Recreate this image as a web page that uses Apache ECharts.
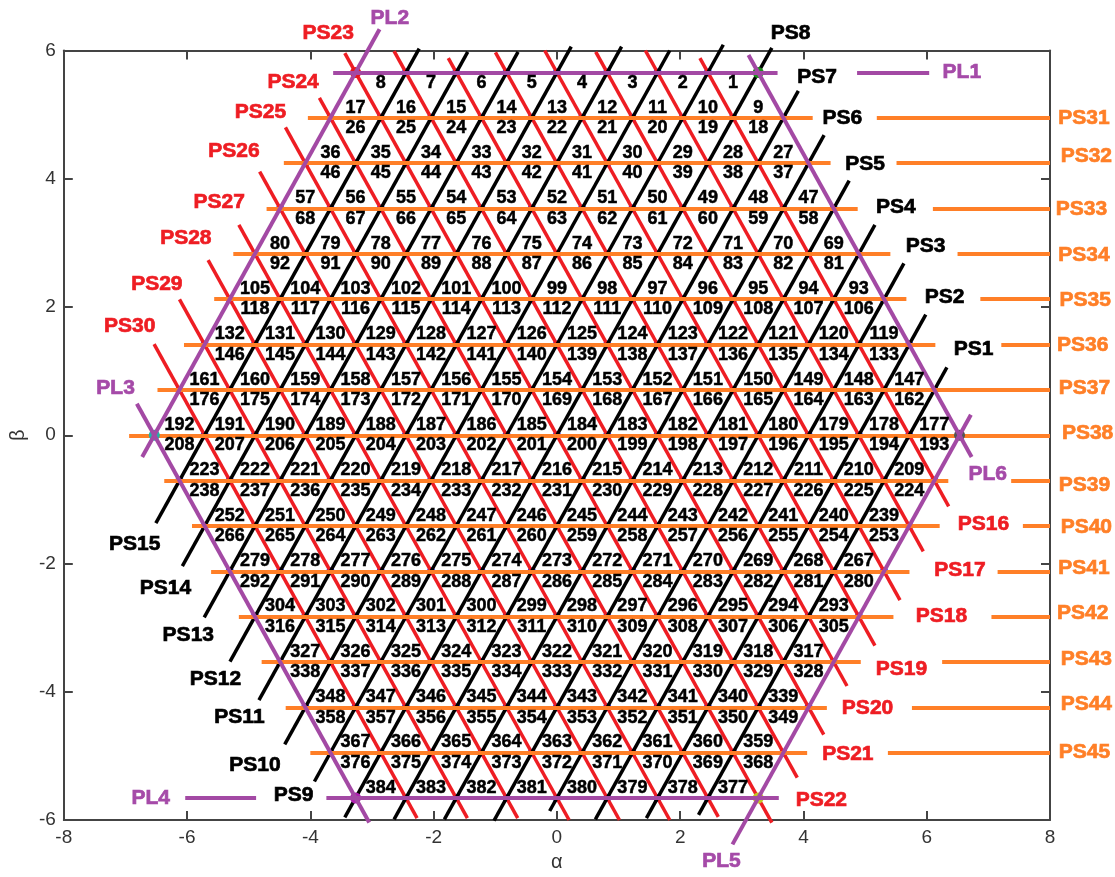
<!DOCTYPE html>
<html>
<head>
<meta charset="utf-8">
<script src="https://cdn.jsdelivr.net/npm/echarts@6/dist/echarts.min.js"></script>
<style>
  html, body { margin: 0; padding: 0; background: #fff; }
  #chart { width: 1115px; height: 877px; }
</style>
</head>
<body>
<div id="chart"></div>
<script>
// Spacing between neighbouring parallel lines and edge length of one small triangle
const D = Math.SQRT1_2;
const H = Math.sqrt(3) / 2;
const S = D / H;

// Axis ticks
const xTicks = [-8, -6, -4, -2, 0, 2, 4, 6, 8];
const yTicks = [-6, -4, -2, 0, 2, 4, 6];

// Black family (0.866·α − 0.5·β = k·D): PS1 … PS15
const blackNames = ['PS1','PS2','PS3','PS4','PS5','PS6','PS7','PS8','PS9','PS10','PS11','PS12','PS13','PS14','PS15'];
const blackK = [7, 6, 5, 4, 3, 2, 1, 0, -1, -2, -3, -4, -5, -6, -7];
const blackTopBeta = [1.06, 1.88, 2.68, 3.28, 3.97, 4.68, 5.37, 6.04, 6.09, 6.00, 6.06, 6.06, 5.98, 5.98, 6.03];
const blackBottomBeta = [-5.92, -5.97, -5.99, -5.86, -6.01, -5.99, -5.99, -5.96, -5.40, -4.82, -4.13, -3.53, -2.84, -2.04, -1.37];
const blackLabelPos = [[6.76, 1.34], [6.29, 2.15], [5.98, 2.95], [5.50, 3.55], [5.00, 4.23], [4.63, 4.94], [4.22, 5.58], [3.79, 6.27],
  [-4.27, -5.62], [-4.90, -5.14], [-5.15, -4.40], [-5.54, -3.81], [-5.98, -3.12], [-6.35, -2.39], [-6.85, -1.70]];

// Red family (0.866·α + 0.5·β = k·D): PS16 … PS30
const redNames = ['PS16','PS17','PS18','PS19','PS20','PS21','PS22','PS23','PS24','PS25','PS26','PS27','PS28','PS29','PS30'];
const redK = [7, 6, 5, 4, 3, 2, 1, 0, -1, -2, -3, -4, -5, -6, -7];
const redTopBeta = [5.88, 6.00, 5.98, 6.00, 5.97, 5.88, 5.99, 5.96, 5.26, 4.80, 4.11, 3.28, 2.73, 2.12, 1.42];
const redBottomBeta = [-1.11, -1.81, -2.57, -3.28, -3.91, -4.67, -5.34, -6.04, -5.95, -6.00, -6.00, -6.00, -5.97, -5.97, -5.97];
const redLabelPos = [[6.92, -1.38], [6.54, -2.11], [6.24, -2.82], [5.59, -3.65], [5.04, -4.26], [4.72, -4.98], [4.29, -5.69],
  [-3.71, 6.27], [-4.28, 5.50], [-4.81, 5.03], [-5.24, 4.43], [-5.48, 3.63], [-6.02, 3.07], [-6.49, 2.36], [-6.93, 1.70]];

// Orange family (β = k·D): PS31 … PS45, each broken where a label crosses it
const orangeNames = ['PS31','PS32','PS33','PS34','PS35','PS36','PS37','PS38','PS39','PS40','PS41','PS42','PS43','PS44','PS45'];
const orangeK = [7, 6, 5, 4, 3, 2, 1, 0, -1, -2, -3, -4, -5, -6, -7];
const orangeStartAlpha = [-4.04, -4.43, -4.71, -5.25, -5.56, -6.05, -6.48, -6.94, -6.37, -5.92, -5.61, -5.16, -4.79, -4.40, -4.00];
const orangeEndAlpha = [8, 8, 8, 8, 8, 8, 8, 8, 8, 8, 8, 8, 8, 8, 8];
const orangeGap = [[4.15, 5.19], [4.44, 5.51], [4.88, 6.10], [5.41, 6.50], [5.67, 6.87], [6.14, 7.21], null, null,
  [6.35, 7.37], [6.21, 7.56], [5.72, 7.15], [5.46, 7.05], [4.93, 6.25], [4.38, 5.76], [4.06, 5.37]];
const orangeLabelAlpha = [8.55, 8.59, 8.51, 8.55, 8.57, 8.53, 8.56, 8.61, 8.56, 8.59, 8.55, 8.53, 8.59, 8.59, 8.56];
const orangeLabelBeta = [4.94, 4.35, 3.52, 2.80, 2.10, 1.40, 0.74, 0.03, -0.78, -1.44, -2.08, -2.77, -3.49, -4.19, -4.94];

// Hexagon sides PL1 … PL6 ('h' horizontal: from/to are α; 'b'/'r' slanted: from/to are β)
const purpleNames = ['PL1', 'PL2', 'PL3', 'PL4', 'PL5', 'PL6'];
const purpleFamily = ['h', 'b', 'r', 'h', 'b', 'r'];
const purpleK = [8, -8, -8, -8, 8, 8];
const purpleFrom = [-3.63, -0.34, -6.04, -6.03, -6.38, -0.34];
const purpleTo = [6.04, 6.33, 0.49, 3.60, 0.32, 5.93];
const purpleGap = [[3.58, 4.87], null, null, [-4.88, -3.74], null, null];
const purpleLabelPos = [[6.57, 5.66], [-2.71, 6.50], [-7.16, 0.74], [-6.59, -5.66], [2.67, -6.64], [6.99, -0.60]];

// Hexagon corners and their marker colours
const cornerColors = ['#e8141c', '#1e8f1e', '#555555', '#c2c424', '#b020b0', '#22b2a8'];

// Colours
const C_RED = '#ee1d23', C_BLACK = '#000000', C_ORANGE = '#ff7f27', C_PURPLE = '#a349a4', C_BLUE = '#1f2fff';
const FONT = '"Liberation Sans", Arial, Helvetica, sans-serif';

// Point on a slanted line of a family at a given β
function redAlpha(k, beta) { return (k * D - 0.5 * beta) / H; }
function blackAlpha(k, beta) { return (k * D + 0.5 * beta) / H; }

function seg(a, b) { return { coords: [a, b] }; }

// Red and black slanted lines
const redSegs = redK.map((k, i) => seg([redAlpha(k, redTopBeta[i]), redTopBeta[i]], [redAlpha(k, redBottomBeta[i]), redBottomBeta[i]]));
const blackSegs = blackK.map((k, i) => seg([blackAlpha(k, blackTopBeta[i]), blackTopBeta[i]], [blackAlpha(k, blackBottomBeta[i]), blackBottomBeta[i]]));

// Horizontal lines, split around their gaps
function hSegs(beta, a0, a1, gap) {
  if (!gap) return [seg([a0, beta], [a1, beta])];
  return [seg([a0, beta], [gap[0], beta]), seg([gap[1], beta], [a1, beta])];
}
const orangeSegs = [];
orangeK.forEach((k, i) => orangeSegs.push(...hSegs(k * D, orangeStartAlpha[i], orangeEndAlpha[i], orangeGap[i])));

const purpleSegs = [];
purpleFamily.forEach((f, i) => {
  const k = purpleK[i];
  if (f === 'h') {
    purpleSegs.push(...hSegs(k * D, purpleFrom[i], purpleTo[i], purpleGap[i]));
  } else {
    const fn = f === 'r' ? redAlpha : blackAlpha;
    purpleSegs.push(seg([fn(k, purpleFrom[i]), purpleFrom[i]], [fn(k, purpleTo[i]), purpleTo[i]]));
  }
});

// Lattice nodes: crossings of the three families inside the hexagon
const nodes = [];
for (let m = -8; m <= 8; m++) {
  const w = (8 - Math.abs(m) / 2) * S;
  for (let i = 0; i <= 16 - Math.abs(m); i++) nodes.push([-w + i * S, m * D]);
}
const corners = [
  [-4 * S, 8 * D], [4 * S, 8 * D], [8 * S, 0], [4 * S, -8 * D], [-4 * S, -8 * D], [-8 * S, 0]
].map((p, i) => ({ value: p, itemStyle: { color: cornerColors[i] } }));

// Triangle numbers 1 … 384, band by band from the top, right to left,
// first the triangles hanging from the upper line, then those standing on the lower line
const NUM_OFFSET = 0.16;
const triangleLabels = [];
(function () {
  let n = 1;
  for (let b = 1; b <= 16; b++) {
    const mTop = 9 - b, mBot = 8 - b;
    const wTop = (8 - Math.abs(mTop) / 2) * S, wBot = (8 - Math.abs(mBot) / 2) * S;
    const nDown = 16 - Math.abs(mTop), nUp = 16 - Math.abs(mBot);
    for (let j = nDown - 1; j >= 0; j--) triangleLabels.push([-wTop + S * (j + 0.5), mTop * D - NUM_OFFSET, n++]);
    for (let j = nUp - 1; j >= 0; j--) triangleLabels.push([-wBot + S * (j + 0.5), mBot * D + NUM_OFFSET, n++]);
  }
})();

// Line name labels
function nameData(names, pos, color) {
  return names.map((t, i) => ({
    value: [pos[i][0], pos[i][1]], name: t,
    label: { color, textBorderColor: color, textBorderWidth: 0.7, opacity: 1 }
  }));
}
const lineNames = [].concat(
  nameData(blackNames, blackLabelPos, C_BLACK),
  nameData(redNames, redLabelPos, C_RED),
  nameData(orangeNames, orangeLabelAlpha.map((a, i) => [a, orangeLabelBeta[i]]), C_ORANGE),
  nameData(purpleNames, purpleLabelPos, '#a54aa8')
);

const axisLineStyle = { color: '#444', width: 2 };
function xAxis(pos, labels) {
  return {
    type: 'value', min: xTicks[0], max: xTicks[xTicks.length - 1], interval: 2, position: pos,
    axisLine: { onZero: false, lineStyle: axisLineStyle },
    axisTick: { inside: true, length: 9, lineStyle: axisLineStyle },
    axisLabel: { show: labels, fontSize: 19, color: '#333', margin: 8, fontFamily: FONT },
    splitLine: { show: false },
    name: labels ? 'α' : '', nameLocation: 'middle', nameGap: 32,
    nameTextStyle: { fontSize: 20, color: '#333', fontFamily: FONT }
  };
}
function yAxis(pos, labels) {
  return {
    type: 'value', min: yTicks[0], max: yTicks[yTicks.length - 1], interval: 2, position: pos,
    axisLine: { onZero: false, lineStyle: axisLineStyle },
    axisTick: { inside: true, length: 9, lineStyle: axisLineStyle },
    axisLabel: { show: labels, fontSize: 19, color: '#333', margin: 8, fontFamily: FONT },
    splitLine: { show: false },
    name: labels ? 'β' : '', nameLocation: 'middle', nameGap: 33,
    nameTextStyle: { fontSize: 20, color: '#333', fontFamily: FONT }
  };
}

function linesSeries(data, color, width, z) {
  return {
    type: 'lines', coordinateSystem: 'cartesian2d', polyline: false, clip: false, silent: true, z,
    lineStyle: { color, width, opacity: 1, cap: 'butt' }, data
  };
}

const chart = echarts.init(document.getElementById('chart'), null, { renderer: 'canvas' });
chart.setOption({
  animation: false,
  backgroundColor: '#fff',
  grid: { left: 61, right: 65, top: 50.5, bottom: 50.5 },
  xAxis: [xAxis('bottom', true), xAxis('top', false)],
  yAxis: [yAxis('left', true), yAxis('right', false)],
  series: [
    { type: 'scatter', data: nodes, symbol: 'circle', symbolSize: 8, itemStyle: { color: C_BLUE, opacity: 1 }, silent: true, z: 1, clip: false },
    linesSeries(redSegs, C_RED, 3.5, 2),
    linesSeries(blackSegs, C_BLACK, 3.5, 3),
    linesSeries(orangeSegs, C_ORANGE, 4, 4),
    { type: 'scatter', data: corners, symbol: 'circle', symbolSize: 11, itemStyle: { opacity: 1 }, silent: true, z: 5, clip: false },
    linesSeries(purpleSegs, C_PURPLE, 4, 6),
    {
      type: 'scatter', data: triangleLabels, symbolSize: 0, itemStyle: { color: 'transparent', opacity: 1 }, silent: true, z: 7, clip: false,
      label: {
        show: true, position: 'inside', formatter: p => String(p.value[2]),
        fontSize: 18, fontWeight: 'bold', color: '#000', fontFamily: FONT,
        textBorderColor: '#000', textBorderWidth: 0.5, opacity: 1
      }
    },
    {
      type: 'scatter', data: lineNames, symbolSize: 0, itemStyle: { color: 'transparent', opacity: 1 }, silent: true, z: 8, clip: false,
      label: {
        show: true, position: 'inside', formatter: p => p.name,
        fontSize: 21, fontWeight: 'bold', fontFamily: FONT, opacity: 1
      }
    }
  ]
});
</script>
</body>
</html>
